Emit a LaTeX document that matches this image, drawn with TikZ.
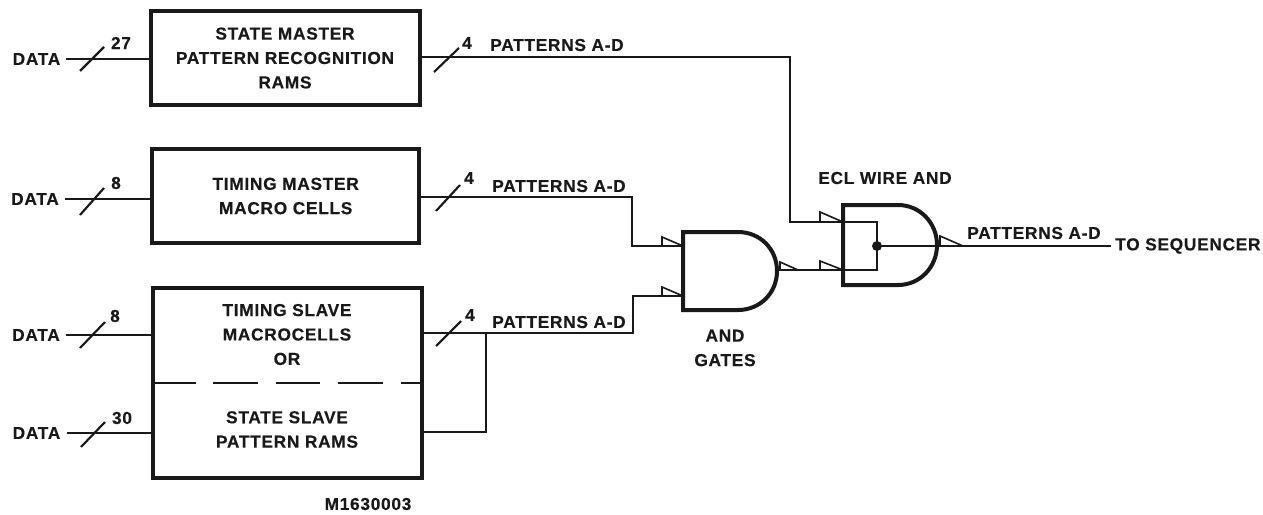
\documentclass[tikz,border=0pt]{standalone}
\usepackage{fontspec}
\setmainfont{Liberation Sans}[BoldFont={Liberation Sans Bold}, BoldFeatures={LetterSpace=4, FakeBold=0.3}]
\usetikzlibrary{arrows.meta}
\tikzset{
  blockbox/.style={draw=black!90, line width=3pt, align=center, font=\bfseries\fontsize{13}{18.3}\selectfont, text=black!90},
  gatebody/.style={draw=black!90, line width=3pt},
  wire/.style={draw=black!90, line width=1.6pt},
  pinmark/.style={draw=black!90, line width=1.2pt},
  busmark/.style={draw=black!90, line width=1.6pt},
  lbl/.style={font=\bfseries\fontsize{13}{18.3}\selectfont, text=black!90, inner sep=0pt}
}
\begin{document}
\begin{tikzpicture}[x=0.75pt, y=-0.75pt]
\useasboundingbox (0,0) rectangle (1263,514);
\node[blockbox, minimum width=201.75pt, minimum height=70.5pt] (stateMaster) at (285,58) {STATE MASTER\\PATTERN RECOGNITION\\RAMS};
\node[blockbox, minimum width=200.6pt, minimum height=70.5pt] (timingMaster) at (285.7,196) {TIMING MASTER\\MACRO CELLS};
\node[blockbox, minimum width=201.75pt, minimum height=143pt] (slaveBox) at (287,383) {};
\node[lbl, align=center] (timingSlave) at (287,334.5) {TIMING SLAVE\\MACROCELLS\\OR};
\node[lbl, align=center] (stateSlave) at (287,429.5) {STATE SLAVE\\PATTERN RAMS};
\draw[wire] (slaveBox.west |- 0,383) -- (196,383);
\draw[wire] (213,383) -- (258,383);
\draw[wire] (276,383) -- (320,383);
\draw[wire] (338,383) -- (383,383);
\draw[wire] (401,383) -- (slaveBox.east |- 0,383);

\node[lbl] (dataA) at (36.5,59) {DATA};
\node[lbl] (dataB) at (35,199) {DATA};
\node[lbl] (dataC) at (36,335) {DATA};
\node[lbl] (dataD) at (36.5,433) {DATA};
\draw[wire] (66,59) -- (stateMaster.west |- dataA);
\draw[wire] (65,199) -- (timingMaster.west |- dataB);
\draw[wire] (66,335) -- (slaveBox.west |- dataC);
\draw[wire] (67,433) -- (slaveBox.west |- dataD);
\draw[busmark] (80,71) -- (104,47);
\draw[busmark] (80,215) -- (104,188);
\draw[busmark] (80,348) -- (105,322);
\draw[busmark] (81,447) -- (105,422);
\node[lbl] (widthA) at (121,43) {27};
\node[lbl] (widthB) at (116,183) {8};
\node[lbl] (widthC) at (115,316) {8};
\node[lbl] (widthD) at (122,418) {30};

\coordinate (andTopIn) at (683,246);
\coordinate (andBotIn) at (683,296);
\coordinate (andOut) at (777,270);
\coordinate (eclTopIn) at (843,222);
\coordinate (eclBotIn) at (843,270);
\coordinate (eclOut) at (937,246);
\coordinate (eclJoin) at (877,246);
\coordinate (seqEnd) at (1111,246);
\path[gatebody] (683,232) -- (738,232) .. controls (760,232) and (777,249) .. (777,271) .. controls (777,293) and (760,310) .. (738,310) -- (683,310) -- cycle;
\path[gatebody] (843,205) -- (898,205) .. controls (920,205) and (937,223) .. (937,245) .. controls (937,267) and (920,285) .. (898,285) -- (843,285) -- cycle;

\draw[wire] (stateMaster.east |- 0,57) -- (790,57) |- (eclTopIn);
\draw[wire] (timingMaster.east |- 0,197) -- (632,197) |- (andTopIn);
\draw[wire] (slaveBox.east |- 0,333) -- (633,333) |- (andBotIn);
\draw[wire] (slaveBox.east |- 0,432) -- (486,432) -- (486,333);
\draw[wire] (andOut) -- (eclBotIn);
\draw[wire] (eclTopIn) -- (877,222) -- (877,270) -- (eclBotIn);
\draw[wire] (eclJoin) -- (eclOut);
\draw[wire] (eclOut) -- (seqEnd);
\fill[black!90] (eclJoin) circle (5);

\draw[pinmark] (662,246) -- (662,237) -- (andTopIn);
\draw[pinmark] (662,296) -- (662,287) -- (andBotIn);
\draw[pinmark] (820,222) -- (820,212) -- (eclTopIn);
\draw[pinmark] (820,270) -- (820,261) -- (eclBotIn);
\draw[pinmark] (780,270) -- (780,262) -- (798,270);
\draw[pinmark] (940,246) -- (940,236) -- (963,246);

\draw[busmark] (434,72) -- (459,48);
\draw[busmark] (436,211) -- (460,185);
\draw[busmark] (436,346) -- (461,321);
\node[lbl] (widthE) at (467,43) {4};
\node[lbl] (widthF) at (469,178) {4};
\node[lbl] (widthG) at (470,315) {4};
\node[lbl, anchor=west] (patternsA) at (490,45) {PATTERNS A-D};
\node[lbl, anchor=west] (patternsB) at (492,186) {PATTERNS A-D};
\node[lbl, anchor=west] (patternsC) at (492,322) {PATTERNS A-D};
\node[lbl, anchor=west] (patternsD) at (967,233) {PATTERNS A-D};
\node[lbl, anchor=west] (toSeq) at (1115,246) {TO SEQUENCER};
\node[lbl] (eclLabel) at (885,178) {ECL WIRE AND};
\node[lbl, align=center] (gatesLabel) at (725,348) {AND\\GATES};
\node[lbl, font=\bfseries\fontsize{13}{18.3}\selectfont\addfontfeature{LetterSpace=11}] (figNum) at (368,504) {M1630003};
\end{tikzpicture}
\end{document}
